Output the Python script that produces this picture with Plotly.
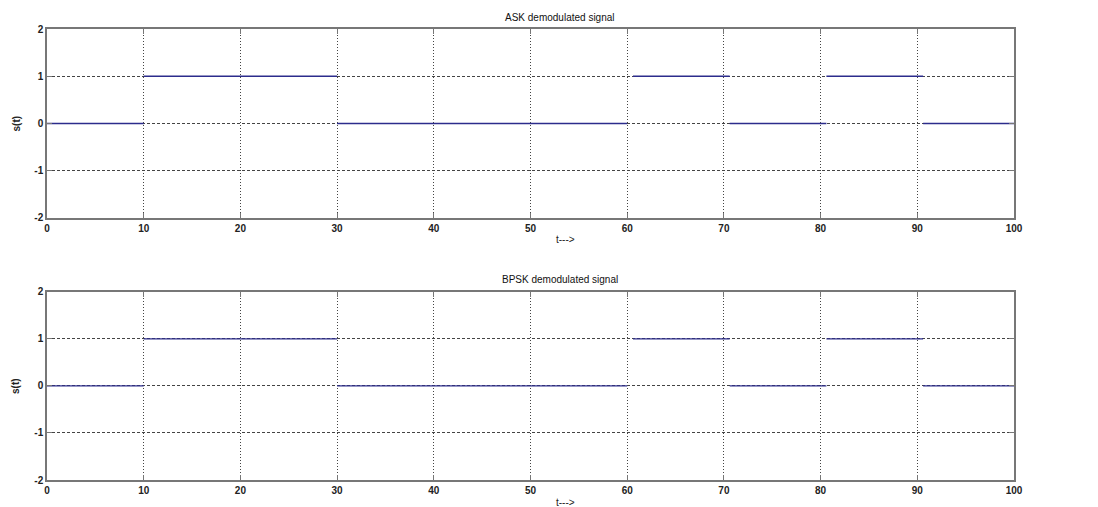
import plotly.graph_objects as go
from plotly.subplots import make_subplots

# Bit segments (start, end, level)
seg_start = [0, 10, 30, 60.6, 70.6, 80.6, 90.6]
seg_end = [10, 30, 60, 70.6, 80.6, 90.6, 100]
ask_levels = [0, 1, 0, 1, 0, 1, 0]
bpsk_levels = [0, 1, 0, 1, 0, 1, 0]

titles = ["ASK demodulated signal", "BPSK demodulated signal"]
x_label = "t--->"
y_label = "s(t)"
x_ticks = [0, 10, 20, 30, 40, 50, 60, 70, 80, 90, 100]
y_ticks = [-2, -1, 0, 1, 2]
y_tick_text = ["-2", "-1", "0", "1", "2"]

def build(levels):
    xs, ys = [], []
    for s, e, v in zip(seg_start, seg_end, levels):
        xs += [s, e, None]
        ys += [v, v, None]
    return xs, ys

TOP_DOM = [0.581, 1.0]
BOT_DOM = [0.0, 0.417]

fig = make_subplots(rows=2, cols=1, vertical_spacing=0.164)
for i, lv in enumerate([ask_levels, bpsk_levels]):
    xs, ys = build(lv)
    fig.add_trace(go.Scatter(x=xs, y=ys, mode="lines",
                             line=dict(color="#2c2c8c", width=1.3),
                             showlegend=False, connectgaps=False), row=i + 1, col=1)

FAM = "Liberation Sans, Arial"
font = dict(family=FAM, size=10, color="#222", weight="bold")
axis_common = dict(showline=True, linecolor="#777", linewidth=1.5, mirror="ticks",
                   ticks="inside", ticklen=5, tickcolor="#777", zeroline=False,
                   tickfont=font, showgrid=True, gridcolor="#444", gridwidth=1,
                   automargin=False)
for r in (1, 2):
    fig.update_xaxes(range=[0, 100], tickvals=x_ticks, griddash="1px,2px", **axis_common,
                     row=r, col=1)
    fig.update_yaxes(range=[-2, 2], tickvals=y_ticks, ticktext=y_tick_text,
                     griddash="3px,2px", **axis_common, row=r, col=1)
fig.update_yaxes(domain=TOP_DOM, row=1, col=1)
fig.update_yaxes(domain=BOT_DOM, row=2, col=1)

fig.update_layout(
    width=1091, height=500,
    margin=dict(l=39, r=85, t=21, b=28),
    paper_bgcolor="white", plot_bgcolor="white",
    showlegend=False,
)
for title, dom in zip(titles, [TOP_DOM, BOT_DOM]):
    fig.add_annotation(text=title, x=0.531, y=dom[1], xref="paper", yref="paper",
                       yanchor="middle", yshift=12, showarrow=False,
                       font=dict(family=FAM, size=10, color="#111"))
    fig.add_annotation(text=x_label, x=0.536, y=dom[0], xref="paper", yref="paper",
                       yanchor="middle", yshift=-22, showarrow=False,
                       font=dict(family=FAM, size=10, color="#222"))
    fig.add_annotation(text=y_label, x=0, y=(dom[0] + dom[1]) / 2, xref="paper", yref="paper",
                       xanchor="center", yanchor="middle", xshift=-31, textangle=-90,
                       showarrow=False,
                       font=dict(family=FAM, size=10, color="#222", weight="bold"))

fig.write_html("out.html")
